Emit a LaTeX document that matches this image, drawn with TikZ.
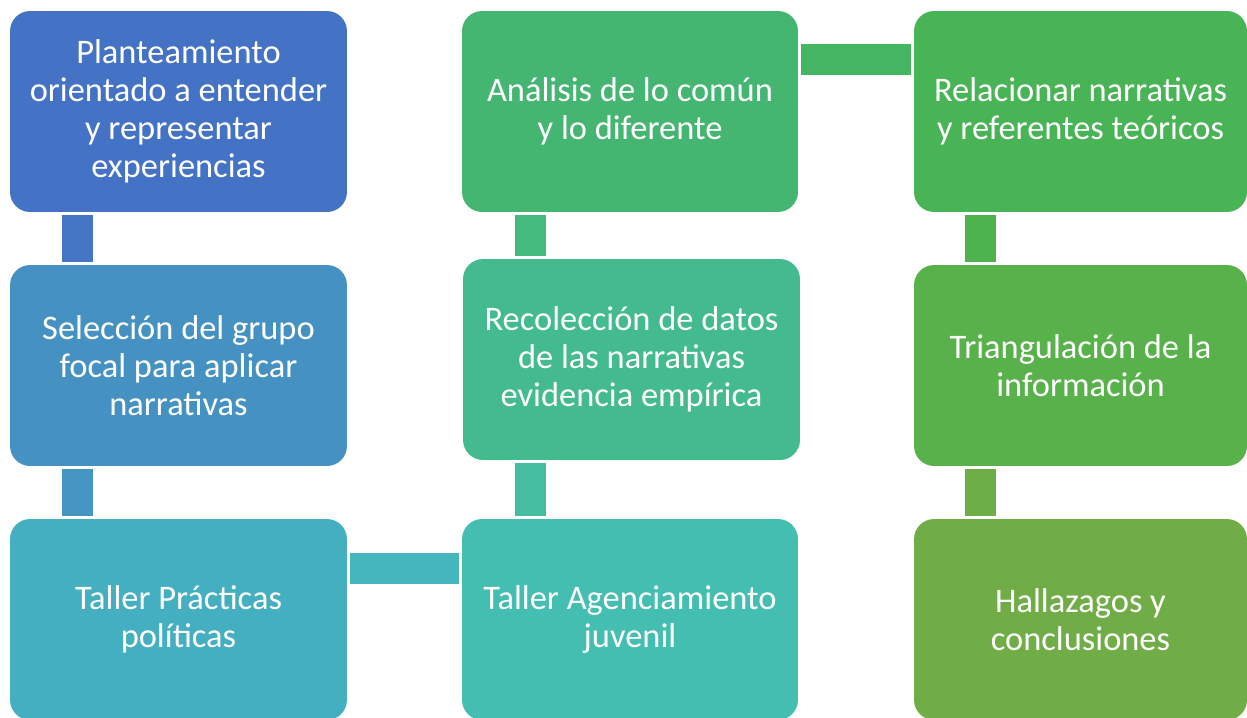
\documentclass[tikz,border=0pt]{standalone}
\usepackage{fontspec}
\setmainfont{Carlito}
\usepackage{tikz}

\definecolor{c1}{HTML}{4472C4}
\definecolor{c2}{HTML}{4592C2}
\definecolor{c3}{HTML}{44AFC1}
\definecolor{c4}{HTML}{44BEB0}
\definecolor{c5}{HTML}{44BB8F}
\definecolor{c6}{HTML}{44B672}
\definecolor{c7}{HTML}{48B455}
\definecolor{c8}{HTML}{58B14A}
\definecolor{c9}{HTML}{70AD47}
\definecolor{k1}{HTML}{4474C4}
\definecolor{k2}{HTML}{4596C2}
\definecolor{k3}{HTML}{45B6BE}
\definecolor{k4}{HTML}{44BDA0}
\definecolor{k5}{HTML}{45BA7F}
\definecolor{k6}{HTML}{46B562}
\definecolor{k7}{HTML}{4DB34F}
\definecolor{k8}{HTML}{6DAE47}

\begin{document}
\begin{tikzpicture}[x=0.02cm, y=-0.02cm,
  every node/.style = {shape=rectangle, rounded corners=0.4cm,
    align=center, text=white, inner sep=0pt,
    minimum width=6.74cm, minimum height=4.02cm,
    font=\fontsize{19.6}{21.6}\selectfont},
  bar/.style = {line width=0.62cm, draw=#1,
    shorten <=0.06cm, shorten >=0.06cm}]
  \useasboundingbox (0,0) rectangle (1247,717);

  % steps
  \node[fill=c1] (plan) at (178.5,111.5)
    {Planteamiento\\orientado a entender\\y representar\\experiencias};
  \node[fill=c2] (grupo) at (178.5,365.5)
    {Selección del grupo\\focal para aplicar\\narrativas};
  \node[fill=c3] (practicas) at (178.5,619.5)
    {Taller Prácticas\\políticas};
  \node[fill=c4, minimum width=6.72cm] (agencia) at (630,619.5)
    {Taller Agenciamiento\\juvenil};
  \node[fill=c5] (datos) at (631.5,359.5)
    {Recolección de datos\\de las narrativas\\evidencia empírica};
  \node[fill=c6, minimum width=6.72cm] (analisis) at (630,111.5)
    {Análisis de lo común\\y lo diferente};
  \node[fill=c7, minimum width=6.66cm] (relacion) at (1080.5,111.5)
    {Relacionar narrativas\\y referentes teóricos};
  \node[fill=c8, minimum width=6.66cm] (triang) at (1080.5,365.5)
    {Triangulación de la\\información};
  \node[fill=c9, minimum width=6.66cm] (hallazgos) at (1080.5,619.5)
    {Hallazagos y\\conclusiones};

  % connectors
  \draw[bar=k1] ([xshift=-2.02cm]plan.south) -- ([xshift=-2.02cm]grupo.north);
  \draw[bar=k2] ([xshift=-2.02cm]grupo.south) -- ([xshift=-2.02cm]practicas.north);
  \draw[bar=k3] ([yshift=1.02cm]practicas.east) -- ([yshift=1.02cm]practicas.east -| agencia.west);
  \draw[bar=k4] ([xshift=-1.99cm]agencia.north) -- ([xshift=-1.99cm]agencia.north |- datos.south);
  \draw[bar=k5] ([xshift=-1.99cm]agencia.north |- datos.north) -- ([xshift=-1.99cm]agencia.north |- analisis.south);
  \draw[bar=k6] ([yshift=1.05cm]analisis.east) -- ([yshift=1.05cm]analisis.east -| relacion.west);
  \draw[bar=k7] ([xshift=-2cm]relacion.south) -- ([xshift=-2cm]triang.north);
  \draw[bar=k8] ([xshift=-2cm]triang.south) -- ([xshift=-2cm]hallazgos.north);
\end{tikzpicture}
\end{document}
